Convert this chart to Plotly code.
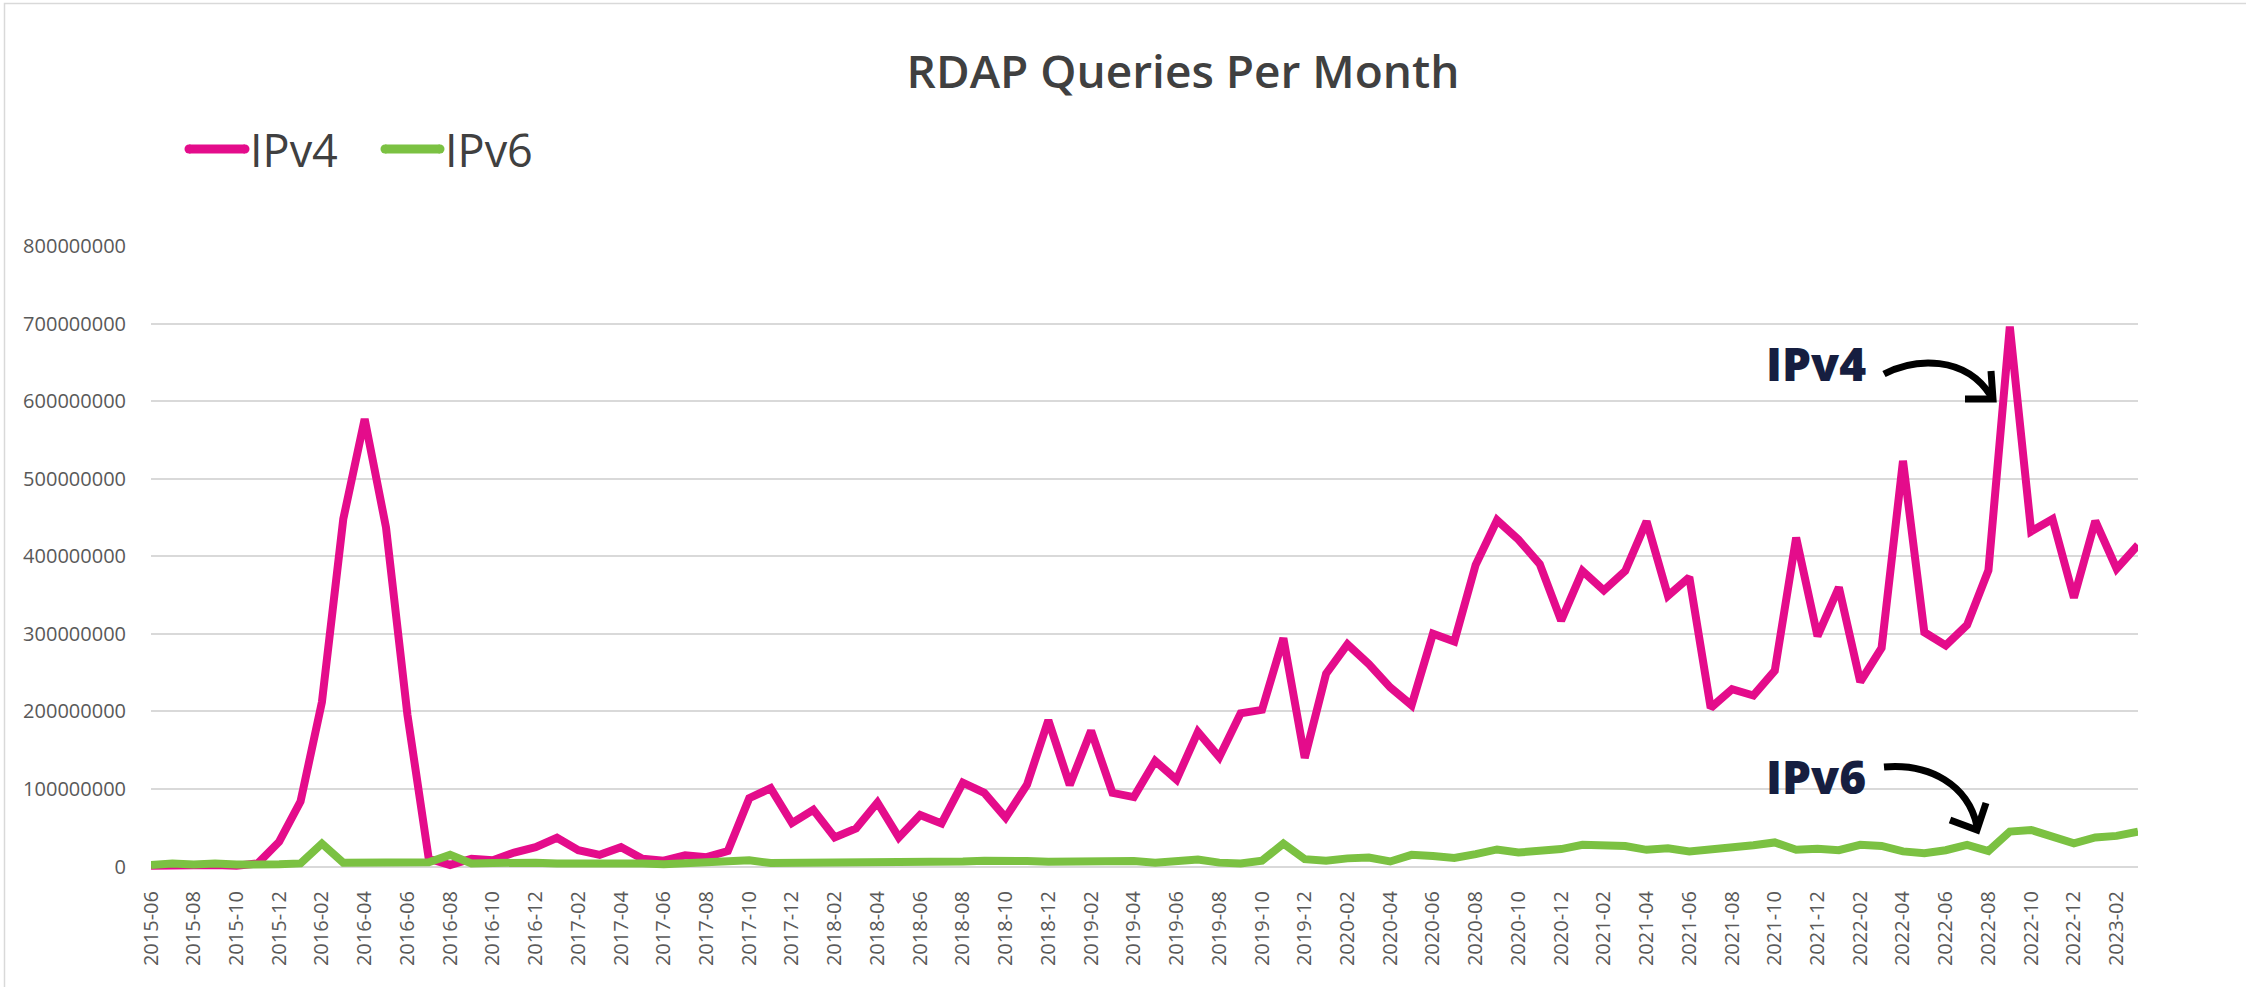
import plotly.graph_objects as go

# ---- data -------------------------------------------------------------
months = [
    "2015-06", "2015-07", "2015-08", "2015-09", "2015-10", "2015-11", "2015-12",
    "2016-01", "2016-02", "2016-03", "2016-04", "2016-05", "2016-06",
    "2016-07", "2016-08", "2016-09", "2016-10", "2016-11", "2016-12",
    "2017-01", "2017-02", "2017-03", "2017-04", "2017-05", "2017-06",
    "2017-07", "2017-08", "2017-09", "2017-10", "2017-11", "2017-12",
    "2018-01", "2018-02", "2018-03", "2018-04", "2018-05", "2018-06",
    "2018-07", "2018-08", "2018-09", "2018-10", "2018-11", "2018-12",
    "2019-01", "2019-02", "2019-03", "2019-04", "2019-05", "2019-06",
    "2019-07", "2019-08", "2019-09", "2019-10", "2019-11", "2019-12",
    "2020-01", "2020-02", "2020-03", "2020-04", "2020-05", "2020-06",
    "2020-07", "2020-08", "2020-09", "2020-10", "2020-11", "2020-12",
    "2021-01", "2021-02", "2021-03", "2021-04", "2021-05", "2021-06",
    "2021-07", "2021-08", "2021-09", "2021-10", "2021-11", "2021-12",
    "2022-01", "2022-02", "2022-03", "2022-04", "2022-05", "2022-06",
    "2022-07", "2022-08", "2022-09", "2022-10", "2022-11", "2022-12",
    "2023-01", "2023-02", "2023-03",
]

# queries per month, in millions
ipv4_millions = [
    1, 2, 1, 2, 1, 4, 32,
    84, 212, 448, 577, 437, 196,
    10, 2, 10, 8, 18, 25,
    37, 21, 15, 25, 10, 7.5,
    14.5, 12, 20, 88, 101, 56,
    73, 37.5, 49, 82.5, 37.5, 66.5,
    55.5, 108, 95, 63, 105.5, 188.5,
    105, 175, 95, 89.5, 136, 112,
    173.5, 141, 197.5, 202, 294.5, 140,
    248.5, 286.5, 261, 231, 208, 300,
    290, 389, 446.5, 421.5, 390, 317,
    381, 356, 381, 445, 349, 373,
    204.5, 228.5, 220.5, 252.5, 424, 297,
    360, 238, 282, 523, 302, 285,
    311.5, 382, 696, 432, 448, 346.5,
    445.5, 384, 414.5,
]

ipv6_millions = [
    2, 4, 2.5, 4, 2.5, 4, 3,
    4, 29.5, 5, 4.5, 5.5, 4.5,
    5.5, 15, 4, 4.5, 6, 5,
    4, 4.5, 3.5, 4.5, 4, 3,
    4.5, 3.5, 5, 8, 4.5, 4.5,
    4.5, 4.5, 5, 6.5, 5.5, 6.5,
    6, 6.5, 7.5, 8.5, 7, 6,
    6.5, 5, 6.5, 7, 5, 6.5,
    9, 5, 4, 7.5, 29.5, 9.5,
    7.5, 10.5, 11.5, 6.5, 15, 13.5,
    11, 16, 22, 18, 20, 22.5,
    28, 28.5, 26.5, 21.5, 23.5, 19.5,
    21.5, 24.5, 27.5, 31, 21.5, 23,
    21, 28, 26.5, 19.5, 17, 21,
    28, 20, 45, 47, 37.5, 30,
    37.5, 39.5, 45,
]

series_names = ["IPv4", "IPv6"]
tick_labels = months[::2]
y_ticks = [0, 100000000, 200000000, 300000000, 400000000,
           500000000, 600000000, 700000000, 800000000]

# ---- style ------------------------------------------------------------
PINK = "#E40C8B"
GREEN = "#7BC142"
NAVY = "#161E40"
TEXT = "#404040"
AXIS_TEXT = "#595959"
GRID = "#D9D9D9"
FONT = "Open Sans"

W, H = 2246, 987
L, R, T, B = 151, 2138, 246, 870


def px(x):
    return (x - L) / (R - L)


def py(y):
    return (B - y) / (B - T)


fig = go.Figure()
fig.add_trace(go.Scatter(
    x=months, y=[v * 1_000_000 for v in ipv4_millions], name=series_names[0],
    mode="lines", line=dict(color=PINK, width=8), showlegend=False,
))
fig.add_trace(go.Scatter(
    x=months, y=[v * 1_000_000 for v in ipv6_millions], name=series_names[1],
    mode="lines", line=dict(color=GREEN, width=8), showlegend=False,
))

shapes = []
annotations = []

# chart-area border (top/left visible)
shapes.append(dict(type="rect", xref="paper", yref="paper",
                   x0=px(4.5), x1=px(2300), y0=py(1040), y1=py(3.5),
                   line=dict(color=GRID, width=1.5), layer="below"))

# legend (custom, drawn as shapes + text)
for (x0, x1, name, col) in [(189, 245, series_names[0], PINK),
                             (385, 440, series_names[1], GREEN)]:
    shapes.append(dict(type="line", xref="paper", yref="paper",
                       x0=px(x0), x1=px(x1), y0=py(149), y1=py(149),
                       line=dict(color=col, width=9)))
    for xc in (x0, x1):
        shapes.append(dict(type="circle", xref="paper", yref="paper",
                           x0=px(xc - 4.5), x1=px(xc + 4.5),
                           y0=py(149 + 4.5), y1=py(149 - 4.5),
                           fillcolor=col, line=dict(width=0)))
    annotations.append(dict(text=name, xref="paper", yref="paper",
                            x=px(x1 + 3), y=py(149), xanchor="left",
                            yanchor="middle", showarrow=False,
                            font=dict(family=FONT, size=45, color=TEXT)))

# call-out labels
for yc, name in [(363, series_names[0]), (776, series_names[1])]:
    annotations.append(dict(text=name, xref="paper", yref="paper",
                            x=px(1816), y=py(yc), xanchor="center",
                            yanchor="middle", showarrow=False,
                            font=dict(family=FONT, size=46, color=NAVY,
                                      weight=800)))


def path(points_cmds):
    out = []
    for cmd, pts in points_cmds:
        coords = " ".join(f"{px(x):.5f},{py(y):.5f}" for x, y in pts)
        out.append(f"{cmd}{coords}")
    return " ".join(out)


arrow_line = dict(color="#000000", width=7)
# IPv4 arrow
shapes.append(dict(type="path", xref="paper", yref="paper", line=arrow_line,
                   path=path([("M", [(1884, 374)]),
                              ("C", [(1915, 358), (1965, 355), (1991, 396)])])))
shapes.append(dict(type="path", xref="paper", yref="paper", line=arrow_line,
                   path=path([("M", [(1991, 371)]), ("L", [(1993, 399)]),
                              ("L", [(1965, 399)])])))
# IPv6 arrow
shapes.append(dict(type="path", xref="paper", yref="paper", line=arrow_line,
                   path=path([("M", [(1884, 767)]),
                              ("C", [(1930, 763), (1968, 785), (1977, 826)])])))
shapes.append(dict(type="path", xref="paper", yref="paper", line=arrow_line,
                   path=path([("M", [(1986, 803)]), ("L", [(1977, 830)]),
                              ("L", [(1950, 820)])])))

fig.update_layout(
    width=W, height=H,
    margin=dict(l=L, r=W - R, t=T, b=H - B, pad=0),
    paper_bgcolor="white", plot_bgcolor="white",
    title=dict(text="RDAP Queries Per Month", xref="container", yref="container",
               x=1183 / W, y=1 - 72 / H, xanchor="center", yanchor="middle",
               font=dict(family=FONT, size=46, color=TEXT, weight=600)),
    font=dict(family=FONT, color=AXIS_TEXT),
    showlegend=False,
    shapes=shapes,
    annotations=annotations,
)
fig.update_xaxes(
    type="category", range=[0, len(months) - 1],
    tickmode="array", tickvals=tick_labels, ticktext=tick_labels,
    tickangle=-90, tickfont=dict(family=FONT, size=20, color=AXIS_TEXT),
    ticks="outside", ticklen=12, tickcolor="rgba(0,0,0,0)",
    showgrid=False, showline=False, zeroline=False, automargin=False,
)
fig.update_yaxes(
    range=[-4.5e6, 800e6], tickmode="array", tickvals=y_ticks,
    ticktext=[str(v) for v in y_ticks],
    tickfont=dict(family=FONT, size=20, color=AXIS_TEXT),
    ticks="outside", ticklen=20, tickcolor="rgba(0,0,0,0)",
    showgrid=True, gridcolor=GRID, gridwidth=2,
    zeroline=False, showline=False, automargin=False,
)

fig.write_html("out.html",
               config={"displayModeBar": False},
               post_script="document.body.style.margin='0';"
                           "document.body.style.overflow='hidden';")
